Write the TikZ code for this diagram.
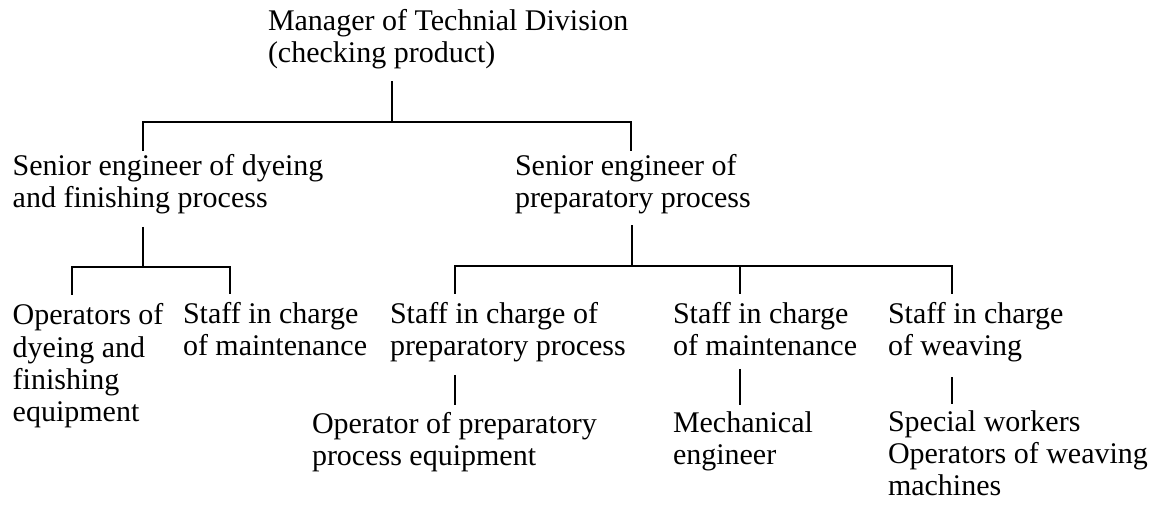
\documentclass[tikz,border=0pt]{standalone}
\usepackage{fontspec}
\setmainfont{Liberation Serif}
\begin{document}
\begin{tikzpicture}[x=1bp,y=-1bp,
  lbl/.style={anchor=base west,align=left,inner sep=0pt,outer sep=0pt,
    font=\fontsize{30bp}{32bp}\selectfont},
  conn/.style={draw=black,line width=1.6bp}]
\useasboundingbox (0,0) rectangle (1160,510);
% nodes (anchor = baseline of the last line)
\node[lbl] (mgr) at (268,63) {Manager of Technial Division\\(checking product)};
\node[lbl] (sl) at (12.7,208) {Senior engineer of dyeing\\and finishing process};
\node[lbl] (sr) at (515,208) {Senior engineer of\\preparatory process};
\node[lbl] (b1) at (12.7,421) {Operators of\\dyeing and\\finishing\\equipment};
\node[lbl] (b2) at (183,356) {Staff in charge\\of maintenance};
\node[lbl] (b3) at (390,356) {Staff in charge of\\preparatory process};
\node[lbl] (b4) at (673,356) {Staff in charge\\of maintenance};
\node[lbl] (b5) at (888,356) {Staff in charge\\of weaving};
\node[lbl] (c3) at (312,465) {Operator of preparatory\\process equipment};
\node[lbl] (c4) at (673,464) {Mechanical\\engineer};
\node[lbl] (c5) at (888,495) {Special workers\\Operators of weaving\\machines};
% junctions
\coordinate (t) at (392,122);
\coordinate (tl) at (143,122);
\coordinate (tr) at (631,122);
\coordinate (l) at (143,267);
\coordinate (l1) at (72,267);
\coordinate (l2) at (230,267);
\coordinate (r) at (632,266);
\coordinate (r1) at (455,266);
\coordinate (r2) at (740,266);
\coordinate (r3) at (952,266);
% connectors
\draw[conn,shorten <=12bp] (mgr.south -| t) -- (t);
\draw[conn,shorten <=4bp,shorten >=4bp] (sl.north -| tl) -- (tl) -- (tr) -- (sr.north -| tr);
\draw[conn,shorten <=12.5bp] (sl.south -| l) -- (l);
\draw[conn,shorten <=9bp,shorten >=9bp] (b1.north -| l1) -- (l1) -- (l2) -- (b2.north -| l2);
\draw[conn,shorten <=11bp] (sr.south -| r) -- (r);
\draw[conn,shorten <=9bp,shorten >=9bp] (b3.north -| r1) -- (r1) -- (r3) -- (b5.north -| r3);
\draw[conn,shorten >=9bp] (r2) -- (b4.north -| r2);
\draw[conn,shorten <=12.5bp,shorten >=6.5bp] (b3.south -| r1) -- (c3.north -| r1);
\draw[conn,shorten <=12.5bp,shorten >=6.5bp] (b4.south -| r2) -- (c4.north -| r2);
\draw[conn,shorten <=15bp,shorten >=6.5bp] (b5.south -| r3) -- (c5.north -| r3);
\end{tikzpicture}
\end{document}
